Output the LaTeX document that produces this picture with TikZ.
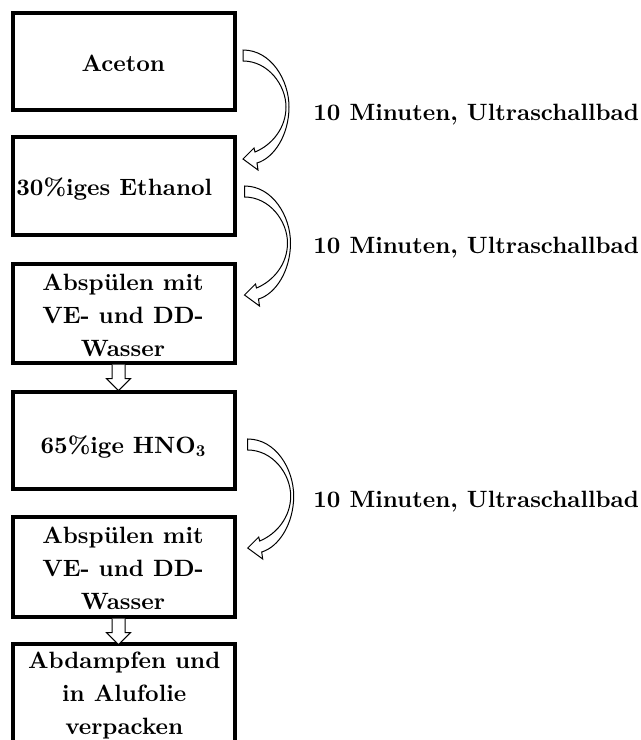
\documentclass[tikz,border=0pt]{standalone}
\usepackage{fontspec}
\setmainfont{lmroman10-regular.otf}[BoldFont=lmroman10-bold.otf]
\usetikzlibrary{calc}

% one unit = 0.5pt, y runs downwards
\tikzset{
  stepbox/.style={draw, line width=1.6pt, minimum width=111pt, inner sep=0pt},
  txt/.style={font=\fontsize{11.8pt}{16.5pt}\selectfont\bfseries, inner sep=0pt},
  outline/.style={draw, fill=white, line width=0.5pt, line join=miter},
  % hollow arrow that bends round to the right and back down
  bendarrow/.pic={
    \path[outline] (0,0) -- (0,11)
      .. controls (25,11) and (43,35) .. (43,57)
      .. controls (43,78) and (29,95) .. (12,102)
      -- (11,98) -- (0,109) -- (15,120) -- (14,113)
      .. controls (31,108) and (46,85) .. (46,57)
      .. controls (46,30) and (28,0) .. (0,0) -- cycle;
  },
  % short hollow block arrow pointing down
  downarrow/.pic={
    \path[outline] (-6.5,0) -- (-6.5,14) -- (-12,14) -- (0,26)
      -- (12,14) -- (6.5,14) -- (6.5,0);
  }
}

\newcommand{\stack}[1]{\begin{tabular}[t]{@{}c@{}}#1\end{tabular}}

\begin{document}
\begin{tikzpicture}[x=0.5pt, y=-0.5pt]
  \path[fill=white] (0,0) rectangle (641,740);
  \useasboundingbox (0,0) rectangle (641,740);

  % process steps
  \node[stepbox, minimum height=48.5pt] (b1) at (124,61.5) {};
  \node[stepbox, minimum height=49pt]   (b2) at (124,186)  {};
  \node[stepbox, minimum height=49.5pt] (b3) at (124,313.5) {};
  \node[stepbox, minimum height=48.5pt] (b4) at (124,440.5) {};
  \node[stepbox, minimum height=50pt]   (b5) at (124,567)  {};
  \node[stepbox, minimum height=50pt]   (b6) at (124,694)  {};

  % step texts
  \node[txt, anchor=base] (l1) at (123.3,71)  {Aceton};
  \node[txt, anchor=base] (l2) at (114.3,195) {30\%iges Ethanol};
  \node[txt, anchor=base] (l3) at (123,290)   {\stack{Abspülen mit\\VE- und DD-\\Wasser}};
  \node[txt, anchor=base] (l4) at (123.5,453.3) {65\%ige HNO\textsubscript{3}};
  \node[txt, anchor=base] (l5) at (123,543.3) {\stack{Abspülen mit\\VE- und DD-\\Wasser}};
  \node[txt, anchor=base] (l6) at (124.2,668.3) {\stack{Abdampfen und\\in Alufolie\\verpacken}};

  % bent arrows between the bath steps
  \coordinate (c1) at (243,50);
  \coordinate (c2) at (244.5,186);
  \coordinate (c3) at (247.7,439);
  \pic at (c1) {bendarrow};
  \pic at (c2) {bendarrow};
  \pic at (c3) {bendarrow};

  \node[txt, anchor=base west] (m1) at (313,120.5) {10 Minuten, Ultraschallbad};
  \node[txt, anchor=base west] (m2) at (313,253.3) {10 Minuten, Ultraschallbad};
  \node[txt, anchor=base west] (m3) at (313,507)   {10 Minuten, Ultraschallbad};

  % short arrows after rinsing
  \pic at ($(b3.south)+(-5.5,0)$) {downarrow};
  \pic at ($(b5.south)+(-5.5,0)$) {downarrow};
\end{tikzpicture}
\end{document}
